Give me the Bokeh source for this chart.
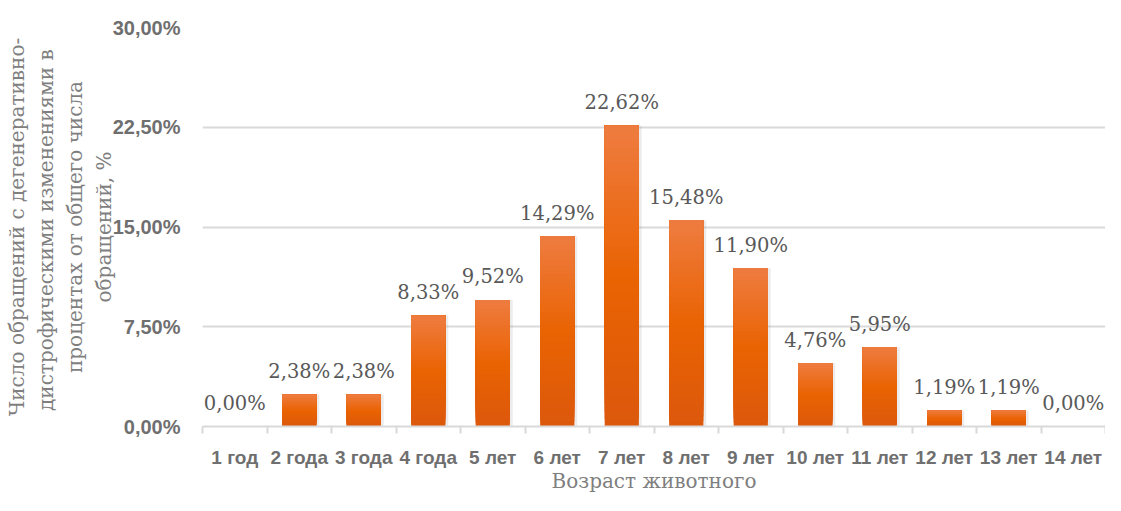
import numpy as np
from bokeh.plotting import figure
from bokeh.models import FixedTicker, CustomJSTickFormatter, ColumnDataSource, Range1d
from bokeh.core.properties import value
from bokeh.embed import file_html
from bokeh.resources import INLINE

categories = ["1 год", "2 года", "3 года", "4 года", "5 лет", "6 лет", "7 лет",
              "8 лет", "9 лет", "10 лет", "11 лет", "12 лет", "13 лет", "14 лет"]
values = [0.00, 2.38, 2.38, 8.33, 9.52, 14.29, 22.62, 15.48, 11.90, 4.76, 5.95, 1.19, 1.19, 0.00]
y_ticks = [0, 7.5, 15, 22.5, 30]

y_title = ("Число обращений с дегенеративно-\nдистрофическими изменениями  в\n"
           "процентах от общего числа\nобращений, %")
x_title = "Возраст животного"

TICK_FONT = "'Liberation Sans', Arial, sans-serif"
SERIF = "'DejaVu Serif', serif"

n = len(categories)
xs = np.arange(n)

p = figure(width=1105, height=495, output_backend="svg", toolbar_location=None,
           x_range=Range1d(-0.5, n - 0.5), y_range=Range1d(0, 30),
           min_border_left=202, min_border_right=0, min_border_top=27, min_border_bottom=68)
p.outline_line_color = None
p.background_fill_color = "white"

# gradient bars: overlapping bands, each from its start to the bar top
N = 40
top_c = np.array([238, 124, 64])
mid_c = np.array([234, 99, 2])
bot_c = np.array([220, 88, 12])

def grad_color(t):
    if t >= 0.5:
        c = mid_c + (top_c - mid_c) * (t - 0.5) / 0.5
    else:
        c = bot_c + (mid_c - bot_c) * t / 0.5
    return "#%02x%02x%02x" % tuple(int(round(x)) for x in c)

bx, bb, bt, bc = [], [], [], []
for k in range(N):
    for i, v in enumerate(values):
        if v <= 0:
            continue
        bx.append(xs[i])
        bb.append(v * k / N)
        bt.append(v)
        bc.append(grad_color((k + 0.5) / N))

# soft shadow
p.vbar(x=xs + 0.035, top=values, bottom=0, width=0.55, fill_color="#8a8a8a",
       fill_alpha=0.16, line_color=None)
p.vbar(x=bx, bottom=bb, top=bt, width=0.53, fill_color=bc, line_color=None)

labels = [("%.2f" % v).replace(".", ",") + "%" for v in values]
src = ColumnDataSource(dict(x=xs, y=values, t=labels))
p.text(x="x", y="y", text="t", source=src, text_align="center", text_baseline="middle",
       y_offset=-23, text_font=value(SERIF), text_font_size="19.5px", text_color="#595959")

# x axis
p.xaxis.ticker = FixedTicker(ticks=list(xs), minor_ticks=list(np.arange(n + 1) - 0.5))
p.xaxis.major_label_overrides = {int(i): c for i, c in zip(xs, categories)}
p.xaxis.major_tick_line_color = None
p.xaxis.major_tick_out = 0
p.xaxis.major_tick_in = 0
p.xaxis.minor_tick_line_color = "#d9d9d9"
p.xaxis.minor_tick_line_width = 2
p.xaxis.minor_tick_out = 7
p.xaxis.minor_tick_in = 0
p.xaxis.axis_line_color = "#d9d9d9"
p.xaxis.axis_line_width = 2
p.xaxis.major_label_text_font = TICK_FONT
p.xaxis.major_label_text_font_size = "19px"
p.xaxis.major_label_text_font_style = "bold"
p.xaxis.major_label_text_color = "#6f6f6f"
p.xaxis.major_label_standoff = 13
p.xaxis.axis_label = x_title
p.xaxis.axis_label_text_font = SERIF
p.xaxis.axis_label_text_font_size = "20px"
p.xaxis.axis_label_text_font_style = "normal"
p.xaxis.axis_label_text_color = "#7f7f7f"
p.xaxis.axis_label_standoff = -2

# y axis
p.yaxis.ticker = FixedTicker(ticks=y_ticks)
p.yaxis.formatter = CustomJSTickFormatter(code="return tick.toFixed(2).replace('.', ',') + '%';")
p.yaxis.axis_line_color = None
p.yaxis.major_tick_line_color = None
p.yaxis.minor_tick_line_color = None
p.yaxis.major_tick_out = 0
p.yaxis.major_tick_in = 0
p.yaxis.major_label_text_font = TICK_FONT
p.yaxis.major_label_text_font_size = "20px"
p.yaxis.major_label_text_font_style = "bold"
p.yaxis.major_label_text_color = "#6f6f6f"
p.yaxis.major_label_standoff = 22
p.yaxis.axis_label = y_title
p.yaxis.axis_label_text_font = SERIF
p.yaxis.axis_label_text_font_size = "20px"
p.yaxis.axis_label_text_font_style = "normal"
p.yaxis.axis_label_text_align = "center"
p.yaxis.axis_label_text_line_height = 1.2
p.yaxis.axis_label_text_color = "#7f7f7f"
p.yaxis.axis_label_standoff = -6

p.xgrid.grid_line_color = None
p.ygrid.grid_line_color = "#d9d9d9"
p.ygrid.grid_line_width = 2

open("out.html", "w").write(file_html(p, INLINE))
